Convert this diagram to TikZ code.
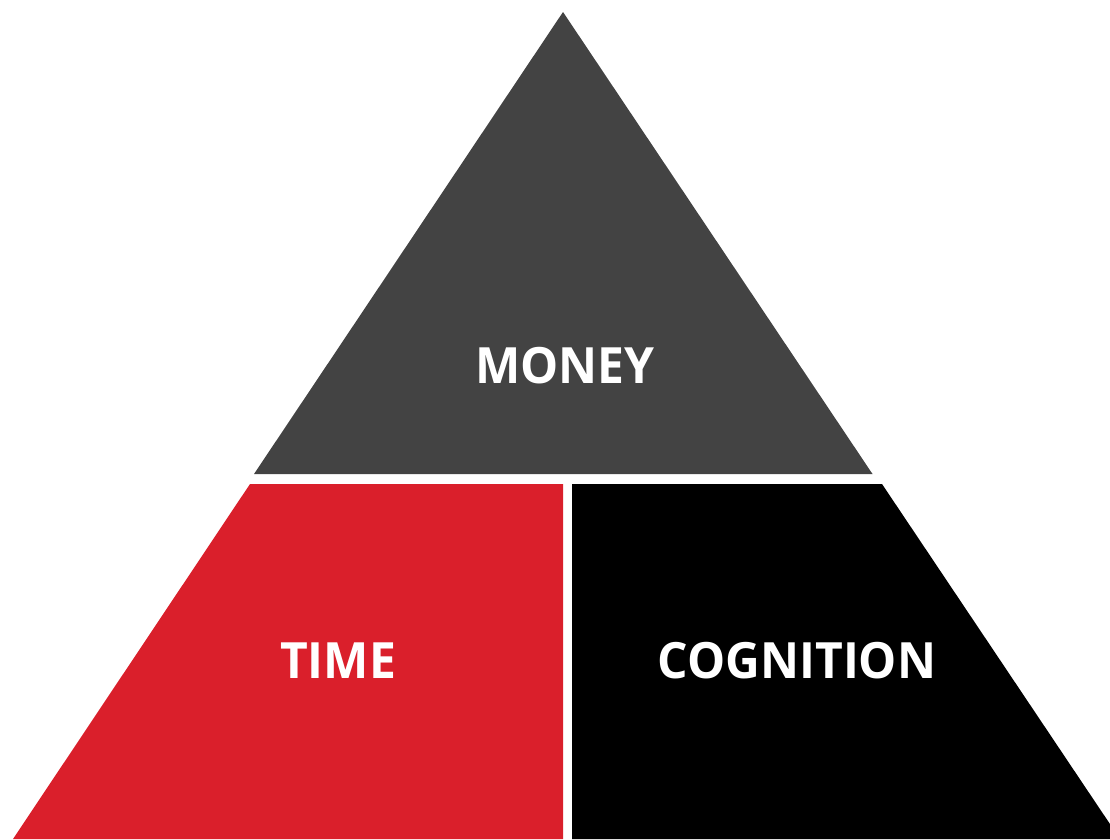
\documentclass[tikz,border=0pt]{standalone}
\usepackage{fontspec}
\newfontfamily\tierfont[FakeStretch=0.96]{Open Sans}
\definecolor{moneygrey}{HTML}{434343}
\definecolor{timered}{HTML}{DA1F2B}

\begin{document}
\begin{tikzpicture}[x=1pt,y=-1pt,
    tiertext/.style={text=white,inner sep=0pt,font=\tierfont\bfseries\fontsize{50}{50}\selectfont}]
    \useasboundingbox (0,0) rectangle (1110,839);
    \clip (0,0) rectangle (1110,839);
    % top tier and the two halves of the base
    \fill[moneygrey] (563,12) -- (872.5,474) -- (254,474) -- cycle;
    \fill[timered] (250,484) -- (563,484) -- (563,839) -- (13,839) -- cycle;
    \fill[black] (572,484) -- (882,484) -- (1120,839) -- (572,839) -- cycle;
    \node[tiertext] (money) at (565,366) {MONEY};
    \node[tiertext] (time) at (338,661) {TIME};
    \node[tiertext] (cognition) at (797,661) {COGNITION};
  \end{tikzpicture}
\end{document}
